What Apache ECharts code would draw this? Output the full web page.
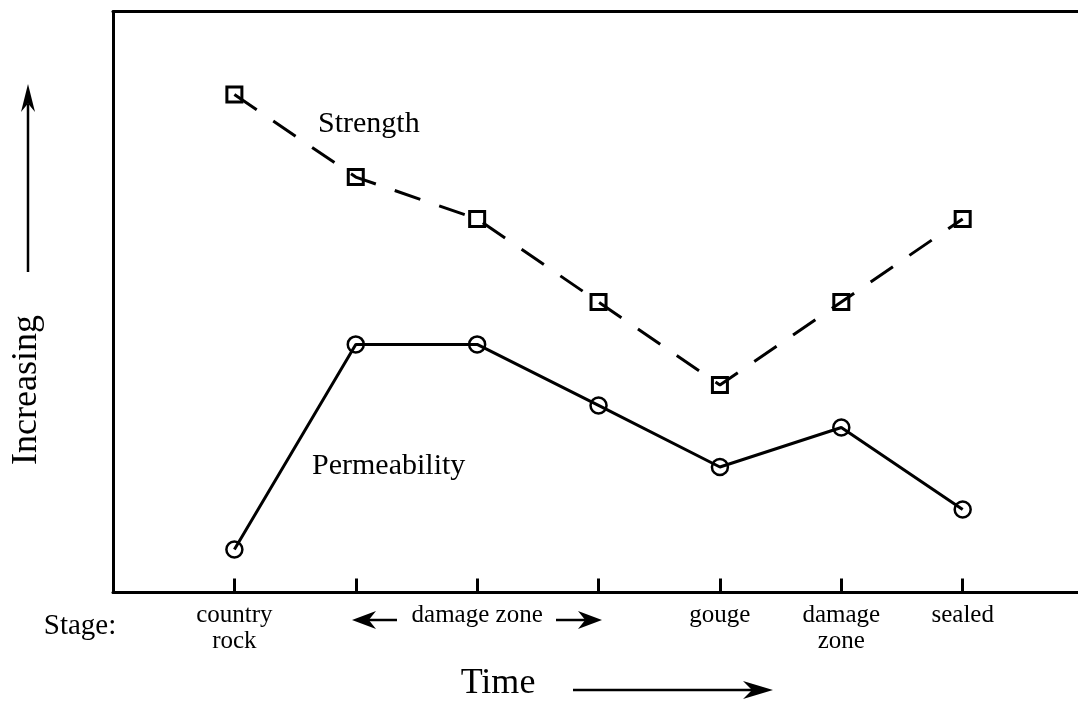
<!DOCTYPE html>
<html>
<head>
<meta charset="utf-8">
<script src="https://cdn.jsdelivr.net/npm/echarts@6/dist/echarts.min.js"></script>
<style>
  html, body { margin: 0; padding: 0; background: #fff; }
  #chart { width: 1078px; height: 702px; }
</style>
</head>
<body>
<div id="chart"></div>
<script>
// data (arbitrary "increasing" scale 0..10)
const stagePos = [1, 2, 3, 4, 5, 6, 7];
const stageLabels = ['country\nrock', '', 'damage zone', '', 'gouge', 'damage\nzone', 'sealed'];
const strength = [8.57, 7.15, 6.43, 5.0, 3.57, 5.0, 6.43];
const permeability = [0.74, 4.27, 4.27, 3.22, 2.16, 2.84, 1.43];

const FONT = 'Liberation Serif';

// arrow = line + filled head (decoration only)
function arrow(x1, y1, x2, y2, len, w) {
  const dx = x2 - x1, dy = y2 - y1;
  const d = Math.sqrt(dx * dx + dy * dy);
  const ux = dx / d, uy = dy / d;
  const px = -uy, py = ux;
  const bx = x2 - ux * len, by = y2 - uy * len;
  const nx = x2 - ux * len * 0.7, ny = y2 - uy * len * 0.7;
  return [
    { type: 'line', shape: { x1: x1, y1: y1, x2: nx, y2: ny }, style: { stroke: '#000', lineWidth: 2.5 } },
    {
      type: 'polygon',
      shape: { points: [[x2, y2], [bx + px * w / 2, by + py * w / 2], [nx, ny], [bx - px * w / 2, by - py * w / 2]] },
      style: { fill: '#000' }
    }
  ];
}

const chart = echarts.init(document.getElementById('chart'));

const option = {
  animation: false,
  backgroundColor: '#fff',
  grid: { left: 113, right: 0, top: 11.5, bottom: 109.5 },
  xAxis: [
    {
      type: 'value',
      min: 0,
      max: 7.95,
      interval: 1,
      splitLine: { show: false },
      axisLine: { lineStyle: { color: '#000', width: 3 } },
      axisTick: { inside: true, length: 14, lineStyle: { color: '#000', width: 3 } },
      axisLabel: {
        margin: 10,
        showMaxLabel: false,
        color: '#000',
        fontFamily: FONT,
        fontSize: 25,
        lineHeight: 26,
        formatter: function (v) {
          const i = stagePos.indexOf(v);
          return i >= 0 ? stageLabels[i] : '';
        }
      }
    },
    {
      type: 'value',
      position: 'top',
      min: 0,
      max: 7.95,
      axisLine: { show: true, onZero: false, lineStyle: { color: '#000', width: 3 } },
      axisTick: { show: false },
      axisLabel: { show: false },
      splitLine: { show: false }
    }
  ],
  yAxis: {
    type: 'value',
    min: 0,
    max: 10,
    splitLine: { show: false },
    axisLine: { show: true, lineStyle: { color: '#000', width: 3 } },
    axisTick: { show: false },
    axisLabel: { show: false }
  },
  series: [
    {
      name: 'Strength',
      type: 'line',
      data: stagePos.map((x, i) => [x, strength[i]]),
      symbol: 'rect',
      symbolSize: 15,
      lineStyle: { color: '#000', width: 3, type: [27, 20] },
      itemStyle: { color: 'transparent', borderColor: '#000', borderWidth: 3 }
    },
    {
      name: 'Permeability',
      type: 'line',
      data: stagePos.map((x, i) => [x, permeability[i]]),
      symbol: 'circle',
      symbolSize: 16,
      lineStyle: { color: '#000', width: 3 },
      itemStyle: { color: 'transparent', borderColor: '#000', borderWidth: 2.5 }
    }
  ],
  graphic: [
    { type: 'text', left: 318, top: 109, style: { text: 'Strength', font: '30px "' + FONT + '"', fill: '#000' } },
    { type: 'text', left: 312, top: 451, style: { text: 'Permeability', font: '30px "' + FONT + '"', fill: '#000' } },
    { type: 'text', x: 80, y: 626, style: { text: 'Stage:', font: '29px "' + FONT + '"', fill: '#000', align: 'center', verticalAlign: 'middle' } },
    { type: 'text', x: 498, y: 684, style: { text: 'Time', font: '36px "' + FONT + '"', fill: '#000', align: 'center', verticalAlign: 'middle' } },
    { type: 'text', x: 27, y: 390, rotation: Math.PI / 2, style: { text: 'Increasing', font: '36px "' + FONT + '"', fill: '#000', align: 'center', verticalAlign: 'middle' } },
    { type: 'group', children: arrow(28, 272, 28, 84, 28, 14) },
    { type: 'group', children: arrow(573, 690, 773, 690, 30, 18) },
    { type: 'group', children: arrow(397, 620, 352, 620, 24, 18) },
    { type: 'group', children: arrow(556, 620, 602, 620, 24, 18) }
  ]
};

chart.setOption(option);
</script>
</body>
</html>
